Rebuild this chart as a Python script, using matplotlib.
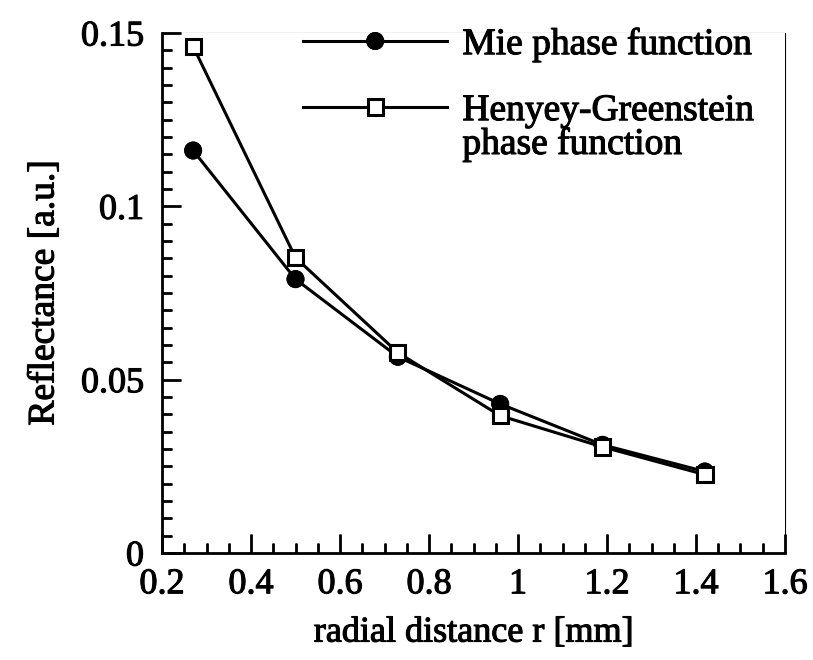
import matplotlib
matplotlib.use("Agg")
import matplotlib.pyplot as plt
import matplotlib.patheffects as pe
from matplotlib.ticker import MultipleLocator, FuncFormatter

# values
radial_distance = [0.27, 0.50, 0.73, 0.96, 1.19, 1.42]
mie_reflectance = [0.1161, 0.0790, 0.0566, 0.0430, 0.0312, 0.0235]
hg_reflectance = [0.1461, 0.0852, 0.0578, 0.0396, 0.0306, 0.0226]

plt.rcParams['font.family'] = ['Liberation Serif', 'DejaVu Serif']
plt.rcParams['path.effects'] = [pe.withStroke(linewidth=0.8, foreground='black')]

fig = plt.figure(figsize=(8.13, 6.6), dpi=100)
ax = fig.add_axes([162/813, 1-553/660, 623/813, 520/660])

ax.plot(radial_distance, mie_reflectance, color='black', lw=2.2, marker='o',
        ms=12, mfc='black', mec='black', label="Mie phase function")
ax.plot(radial_distance, hg_reflectance, color='black', lw=2.2, marker='s',
        ms=11, mfc='white', mec='black', mew=2.2, label="Henyey-Greenstein")

ax.set_xlim(0.2, 1.6)
ax.set_ylim(0, 0.15)
ax.xaxis.set_major_locator(MultipleLocator(0.2))
ax.xaxis.set_minor_locator(MultipleLocator(0.05))
ax.yaxis.set_major_locator(MultipleLocator(0.05))
ax.yaxis.set_minor_locator(MultipleLocator(0.005))
ax.xaxis.set_major_formatter(FuncFormatter(lambda v, p: "%g" % round(v, 2)))
ax.yaxis.set_major_formatter(FuncFormatter(lambda v, p: "%g" % round(v, 3)))

for s in ['top', 'right']:
    ax.spines[s].set_visible(False)
for s in ['left', 'bottom']:
    ax.spines[s].set_linewidth(2.0)
ax.tick_params(which='both', direction='in', width=2.0, labelsize=26)
ax.tick_params(which='major', length=14)
ax.tick_params(which='minor', length=7)
ax.tick_params(axis='x', pad=11)
ax.tick_params(axis='y', pad=13)

ax.set_xlabel("radial distance r [mm]", fontsize=26, labelpad=11)
ax.set_ylabel("Reflectance [a.u.]", fontsize=27, labelpad=14)

leg = ax.legend(loc='upper left', bbox_to_anchor=(303/813, 1-27/660),
                bbox_transform=fig.transFigure, frameon=False, fontsize=27,
                handlelength=3.85, handletextpad=0.4, labelspacing=0.84,
                borderpad=0, borderaxespad=0, numpoints=1)

# second line of the Henyey-Greenstein label, under the legend text
fig.canvas.draw()
bb = leg.get_texts()[1].get_window_extent().transformed(fig.transFigure.inverted())
fig.text(bb.x0, bb.y0 + 0.002, "phase function", fontsize=27, va='top', ha='left')

fig.savefig("out.png", dpi=100)
